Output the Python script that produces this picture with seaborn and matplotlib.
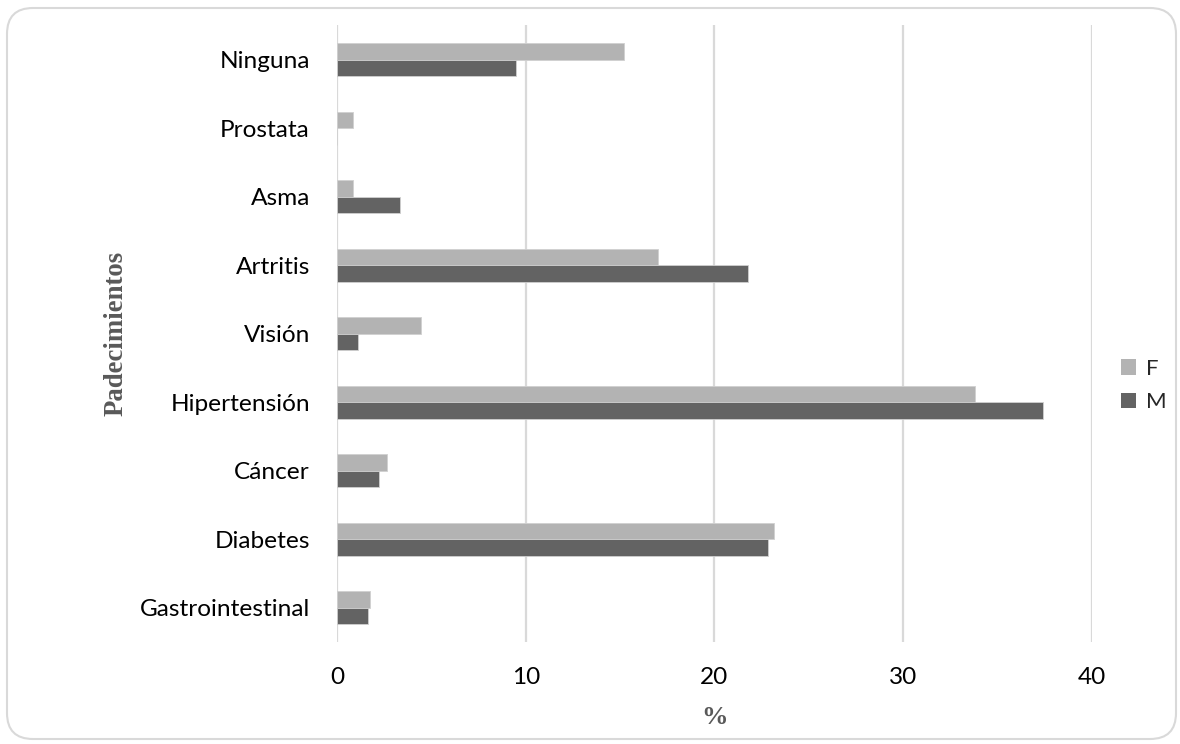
import matplotlib
matplotlib.use("Agg")
import matplotlib.pyplot as plt
from matplotlib.patches import FancyBboxPatch
import seaborn as sns
import pandas as pd

# Padecimientos por sexo (%)
categories = ["Ninguna", "Prostata", "Asma", "Artritis", "Visión",
              "Hipertensión", "Cáncer", "Diabetes", "Gastrointestinal"]
values_f = [15.2, 0.85, 0.85, 17.0, 4.45, 33.8, 2.65, 23.15, 1.75]
values_m = [9.5, 0.0, 3.35, 21.8, 1.1, 37.4, 2.2, 22.85, 1.65]
sexes = ["F", "M"]
x_ticks = [0, 10, 20, 30, 40]

df = pd.DataFrame({
    "Padecimiento": categories * 2,
    "Sexo": ["F"] * len(categories) + ["M"] * len(categories),
    "Porcentaje": values_f + values_m,
})

sns.set_theme(style="white")
plt.rcParams["font.family"] = ["Lato", "DejaVu Sans"]

fig = plt.figure(figsize=(11.8, 7.44), dpi=100)
ax = fig.add_axes([0.2856, 0.1368, 0.6398, 0.8292])

palette = {"F": "#b3b3b3", "M": "#636363"}
sns.barplot(data=df, y="Padecimiento", x="Porcentaje", hue="Sexo",
            hue_order=sexes, order=categories, palette=palette,
            orient="h", width=0.48, edgecolor="#d0d0d0", linewidth=0.6,
            saturation=1, ax=ax)

ax.set_xlim(0, 40)
ax.set_ylim(len(categories) - 0.5, -0.5)
ax.set_xticks(x_ticks)
ax.set_xticklabels([str(t) for t in x_ticks])
ax.xaxis.grid(True, color="#d9d9d9", linewidth=1.6)
ax.yaxis.grid(False)
ax.set_axisbelow(True)
for s in ax.spines.values():
    s.set_visible(False)
ax.tick_params(axis="both", length=0, labelsize=17.6, colors="#000000")
ax.tick_params(axis="y", pad=19.5)
ax.tick_params(axis="x", pad=18)

ax.set_xlabel("%", fontsize=19, fontweight="bold", color="#595959",
              family=["Liberation Serif", "DejaVu Serif"], labelpad=13)
ax.set_ylabel("Padecimientos", fontsize=19.3, fontweight="bold", color="#595959",
              family=["Liberation Serif", "DejaVu Serif"], labelpad=8)

leg = ax.legend(title=None, loc="center left", bbox_to_anchor=(0.933, 0.482),
                bbox_transform=fig.transFigure, frameon=False, fontsize=16,
                handlelength=0.7, handleheight=0.7, handletextpad=0.45,
                labelspacing=0.6)
for h in leg.legend_handles:
    h.set_edgecolor("none")

# Rounded frame around the whole chart
frame = FancyBboxPatch((7, 5), 1169, 731,
                       boxstyle="round,pad=0,rounding_size=26",
                       transform=None, facecolor="none",
                       edgecolor="#d9d9d9", linewidth=1.5)
fig.patches.append(frame)

fig.savefig("out.png", dpi=100, facecolor="white")
